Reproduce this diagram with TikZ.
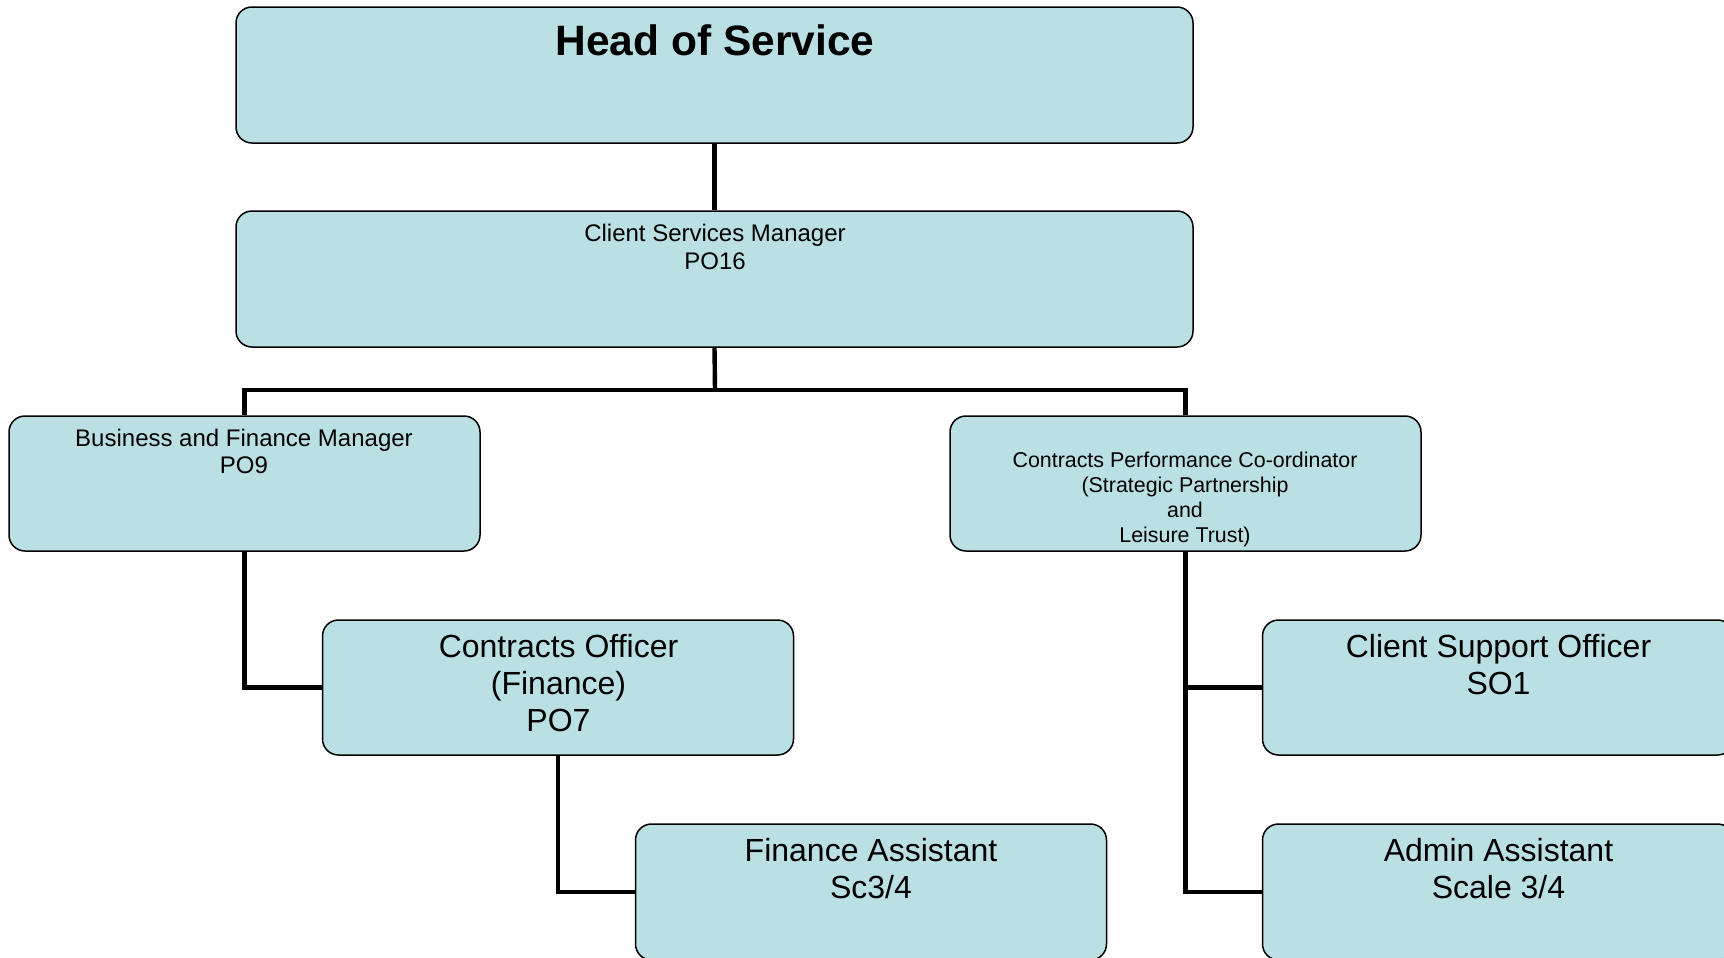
\documentclass[tikz,border=0pt]{standalone}
\usepackage{fontspec}
\setmainfont{Liberation Sans}
\usetikzlibrary{backgrounds}
\definecolor{boxfill}{RGB}{186,224,227}
\begin{document}
\begin{tikzpicture}[x=0.5pt,y=-0.5pt,
  box/.style={draw=black, line width=0.75pt, fill=boxfill, rounded corners=8pt, inner sep=0pt},
  wide/.style={box, minimum width=478.5pt, minimum height=68pt},
  unit/.style={box, minimum width=235.5pt, minimum height=67.5pt},
  link/.style={line width=2.2pt},
  lbl/.style={anchor=north, inner sep=0pt, align=center},
  bigtxt/.style={font={\fontsize{21.25}{24}\selectfont\bfseries}},
  smalltxt/.style={font={\fontsize{12}{13.75}\selectfont}},
  tinytxt/.style={font={\fontsize{10.7}{12.45}\selectfont}},
  midtxt/.style={font={\fontsize{16}{18.6}\selectfont}}]
\clip (0,0) rectangle (1724,958);

% boxes
\node[wide] (head) at (714.5,75) {};
\node[wide] (csm) at (714.5,279) {};
\node[unit] (bfm) at (244.5,483.5) {};
\node[unit] (cpc) at (1185.5,483.5) {};
\node[unit] (co) at (558,687.5) {};
\node[unit, minimum height=68pt] (fa) at (871,892) {};
\node[unit] (cso) at (1498,687.5) {};
\node[unit, minimum height=68pt] (adm) at (1498,892) {};

% labels
\node[lbl, bigtxt] (headT) at (715,23.9) {Head of Service};
\node[lbl, smalltxt] (csmT) at (715,224.1) {Client Services Manager\\PO16};
\node[lbl, smalltxt] (bfmT) at (244,428.7) {Business and Finance Manager\\PO9};
\node[lbl, tinytxt] (cpcT) at (1185,451.7) {Contracts Performance Co-ordinator\\(Strategic Partnership\\and\\Leisure Trust)};
\node[lbl, midtxt] (coT) at (558.5,633.6) {Contracts Officer\\(Finance)\\PO7};
\node[lbl, midtxt] (csoT) at (1498.5,633.6) {Client Support Officer\\SO1};
\node[lbl, midtxt] (faT) at (871,838.2) {Finance Assistant\\Sc3/4};
\node[lbl, midtxt] (admT) at (1498.5,838.2) {Admin Assistant\\Scale 3/4};

% connectors
\coordinate (bus) at (715,390);
\begin{scope}[on background layer]
  \draw[link] (head.south) -- (csm.north);
  \draw[link] (csm.south) -- (bus);
  \draw[link] (bfm.north) |- (bus);
  \draw[link] (cpc.north) |- (bus);
  \draw[link] (bfm.south) |- (co.west);
  \draw[link] (co.south) |- (fa.west);
  \draw[link] (cpc.south) |- (cso.west);
  \draw[link] (cpc.south) |- (adm.west);
\end{scope}
\end{tikzpicture}
\end{document}
